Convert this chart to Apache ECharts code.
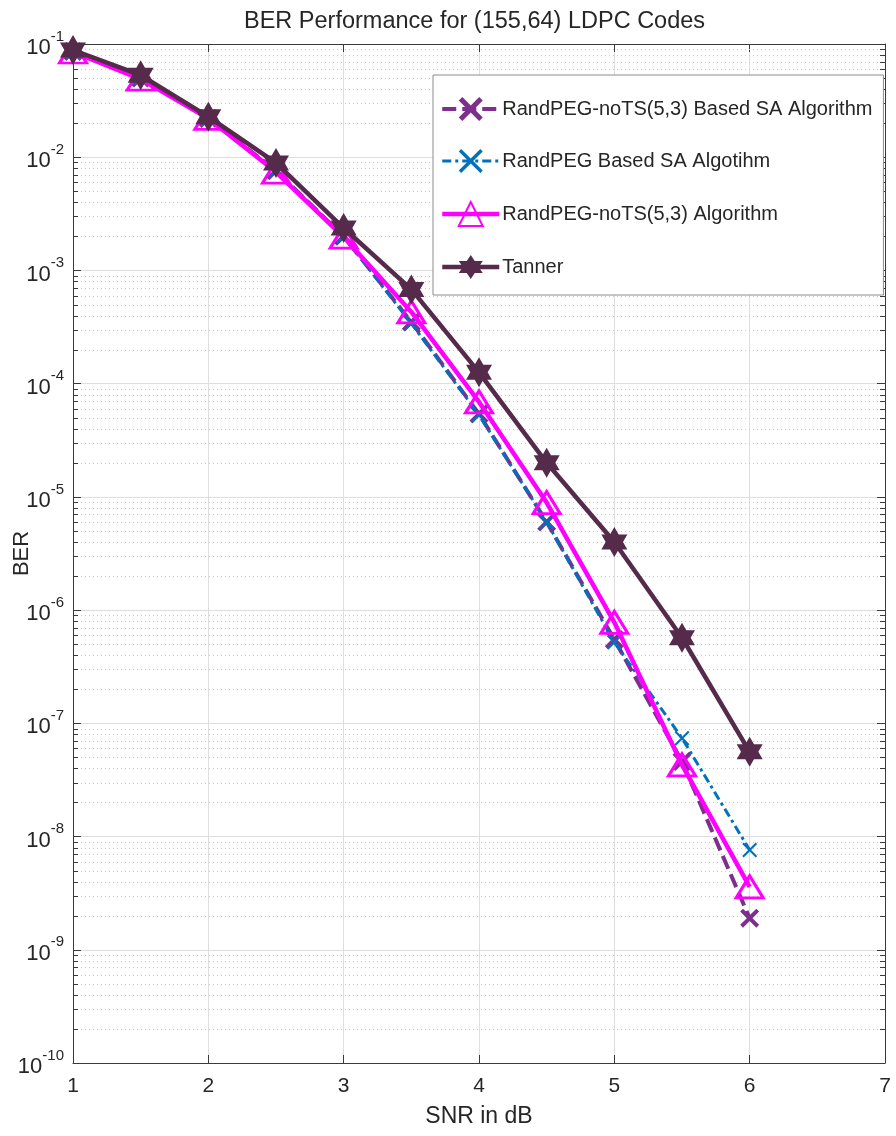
<!DOCTYPE html>
<html>
<head>
<meta charset="utf-8">
<script src="https://cdn.jsdelivr.net/npm/echarts@6/dist/echarts.min.js"></script>
<style>
  html, body { margin: 0; padding: 0; background: #fff; }
  #chart { width: 896px; height: 1136px; }
</style>
</head>
<body>
<div id="chart"></div>
<script>
// SNR points (dB)
const snr = [1, 1.5, 2, 2.5, 3, 3.5, 4, 4.5, 5, 5.5, 6];

// Bit error rates per construction
const berNoTsSA   = [0.086, 0.050, 0.022, 0.0076, 0.0020, 3.5e-4, 5.4e-5, 6.0e-6, 5.5e-7, 4.6e-8, 1.9e-9];
const berRandSA   = [0.086, 0.050, 0.022, 0.0076, 0.0020, 3.4e-4, 5.3e-5, 6.0e-6, 5.2e-7, 7.4e-8, 7.6e-9];
const berNoTs     = [0.085, 0.049, 0.022, 0.0074, 0.00197, 4.3e-4, 6.9e-5, 8.9e-6, 7.8e-7, 4.3e-8, 3.6e-9];
const berTanner   = [0.0885, 0.053, 0.0228, 0.0089, 0.00237, 6.8e-4, 1.26e-4, 2.0e-5, 4.0e-6, 5.7e-7, 5.6e-8];

const seriesNames = [
  'RandPEG-noTS(5,3) Based SA Algorithm',
  'RandPEG Based SA Algotihm',
  'RandPEG-noTS(5,3) Algorithm',
  'Tanner'
];

// Axis ranges and ticks
const xTicks = [1, 2, 3, 4, 5, 6, 7];
const yMinExp = -10;
const yMaxExp = -1;

// minor decade values 2..9 x 10^k for the dotted grid
const minorValues = [];
for (let e = yMinExp; e < yMaxExp; e++) {
  for (let m = 2; m <= 9; m++) minorValues.push(m * Math.pow(10, e));
}

const FONT = '"Liberation Sans", Arial, Helvetica, sans-serif';
const AXIS_COLOR = '#3a3a3a';
const TEXT_COLOR = '#262626';

const pair = (xs, ys) => xs.map((x, i) => [x, ys[i]]);

// marker shapes
const X_BOLD = 'path://M0,3L3,0L10,7L17,0L20,3L13,10L20,17L17,20L10,13L3,20L0,17L7,10Z';
const X_THIN = 'path://M0,2L2,0L10,8L18,0L20,2L12,10L20,18L18,20L10,12L2,20L0,18L8,10Z';
const HEXAGRAM = 'path://M10,0L12.887,5L18.66,5L15.774,10L18.66,15L12.887,15L10,20L7.113,15L1.34,15L4.226,10L1.34,5L7.113,5Z';

// line widths per series (also used for the legend swatches)
const lineWidths = [4, 3, 4.5, 4.5];

const chart = echarts.init(document.getElementById('chart'), null, { renderer: 'canvas' });

const option = {
  backgroundColor: '#ffffff',
  animation: false,
  textStyle: { fontFamily: FONT },
  title: {
    text: 'BER Performance for (155,64) LDPC Codes',
    left: 239,
    top: 5,
    textStyle: { fontFamily: FONT, fontWeight: 'normal', fontSize: 23.5, color: TEXT_COLOR }
  },
  legend: {
    orient: 'vertical',
    left: 433,
    top: 75,
    padding: [22, 11, 16, 7],
    itemWidth: 57,
    itemHeight: 30,
    itemGap: 28,
    backgroundColor: '#ffffff',
    borderColor: '#8c8c8c',
    borderWidth: 1,
    selectedMode: false,
    textStyle: { fontFamily: FONT, fontSize: 20, color: TEXT_COLOR, padding: [0, 0, 0, -2] },
    data: seriesNames.map((n, i) => ({ name: n, lineStyle: { width: lineWidths[i] } }))
  },
  grid: { left: 73, right: 11, top: 44, bottom: 73, containLabel: false, outerBoundsMode: 'none' },
  xAxis: [
    {
      type: 'value',
      min: 1, max: 7, interval: 1,
      name: 'SNR in dB',
      nameLocation: 'middle',
      nameGap: 42,
      nameMoveOverlap: false,
      nameTextStyle: { fontFamily: FONT, fontSize: 23, color: TEXT_COLOR },
      axisLine: { show: true, lineStyle: { color: AXIS_COLOR, width: 1 } },
      axisTick: { show: true, inside: true, length: 8, lineStyle: { color: AXIS_COLOR } },
      axisLabel: { fontFamily: FONT, fontSize: 21, color: TEXT_COLOR, margin: 13,
                   formatter: v => xTicks.includes(v) ? String(v) : '' },
      splitLine: { show: true, lineStyle: { color: '#dedede', width: 1 } }
    },
    {
      type: 'value', position: 'top',
      min: 1, max: 7, interval: 1,
      axisLine: { show: true, lineStyle: { color: AXIS_COLOR, width: 1 } },
      axisTick: { show: true, inside: true, length: 8, lineStyle: { color: AXIS_COLOR } },
      axisLabel: { show: false },
      splitLine: { show: false }
    }
  ],
  yAxis: [
    {
      type: 'log',
      logBase: 10,
      min: Math.pow(10, yMinExp),
      max: Math.pow(10, yMaxExp),
      name: 'BER',
      nameLocation: 'middle',
      nameGap: 40,
      nameMoveOverlap: false,
      nameTextStyle: { fontFamily: FONT, fontSize: 22, color: TEXT_COLOR },
      axisLine: { show: true, lineStyle: { color: AXIS_COLOR, width: 1 } },
      axisTick: { show: true, inside: true, length: 8, lineStyle: { color: AXIS_COLOR } },
      axisLabel: {
        margin: 9,
        formatter: v => '{b|10}{s|' + Math.round(Math.log10(v)) + '}',
        rich: {
          b: { fontFamily: FONT, fontSize: 22, color: TEXT_COLOR, lineHeight: 30, verticalAlign: 'bottom' },
          s: { fontFamily: FONT, fontSize: 15, color: TEXT_COLOR, verticalAlign: 'top', lineHeight: 30 }
        }
      },
      splitLine: { show: true, lineStyle: { color: '#dedede', width: 1 } }
    },
    {
      type: 'log',
      logBase: 10,
      position: 'right',
      min: Math.pow(10, yMinExp),
      max: Math.pow(10, yMaxExp),
      axisLine: { show: true, lineStyle: { color: AXIS_COLOR, width: 1 } },
      axisTick: { show: true, inside: true, length: 8, lineStyle: { color: AXIS_COLOR } },
      axisLabel: { show: false },
      splitLine: { show: false }
    }
  ],
  series: [
    // dotted minor grid and minor ticks on both vertical sides
    {
      type: 'custom',
      name: 'minor',
      silent: true,
      z: 1,
      xAxisIndex: 0,
      yAxisIndex: 0,
      data: minorValues.map(v => [1, v]),
      encode: { x: 0, y: 1 },
      renderItem: function (params, api) {
        const cs = params.coordSys;
        const y = Math.round(api.coord([1, api.value(1)])[1]) + 0.5;
        const x0 = cs.x, x1 = cs.x + cs.width;
        return {
          type: 'group',
          children: [
            { type: 'line', shape: { x1: x0, y1: y, x2: x1, y2: y },
              style: { stroke: '#c8c8c8', lineWidth: 1, lineDash: [1, 3] } },
            { type: 'line', shape: { x1: x0, y1: y, x2: x0 + 5, y2: y },
              style: { stroke: AXIS_COLOR, lineWidth: 1 } },
            { type: 'line', shape: { x1: x1 - 5, y1: y, x2: x1, y2: y },
              style: { stroke: AXIS_COLOR, lineWidth: 1 } }
          ]
        };
      }
    },
    {
      name: seriesNames[0],
      type: 'line',
      z: 3,
      data: pair(snr, berNoTsSA),
      symbol: X_BOLD,
      symbolSize: 19,
      showAllSymbol: true,
      lineStyle: { color: '#7E2F8E', width: lineWidths[0], type: [14, 6] },
      itemStyle: { color: '#7E2F8E' }
    },
    {
      name: seriesNames[1],
      type: 'line',
      z: 4,
      data: pair(snr, berRandSA),
      symbol: X_THIN,
      symbolSize: 15,
      showAllSymbol: true,
      lineStyle: { color: '#0072BD', width: lineWidths[1], type: [9, 4, 3, 4] },
      itemStyle: { color: '#0072BD' }
    },
    {
      name: seriesNames[2],
      type: 'line',
      z: 5,
      data: pair(snr, berNoTs),
      symbol: 'triangle',
      symbolSize: [27, 22],
      showAllSymbol: true,
      lineStyle: { color: '#FF00FF', width: lineWidths[2] },
      itemStyle: { color: 'rgba(255,255,255,0)', borderColor: '#FF00FF', borderWidth: 3 }
    },
    {
      name: seriesNames[3],
      type: 'line',
      z: 6,
      data: pair(snr, berTanner),
      symbol: HEXAGRAM,
      symbolSize: 30,
      symbolKeepAspect: true,
      showAllSymbol: true,
      lineStyle: { color: '#552a4b', width: lineWidths[3] },
      itemStyle: { color: '#552a4b' }
    }
  ]
};

chart.setOption(option);
</script>
</body>
</html>
